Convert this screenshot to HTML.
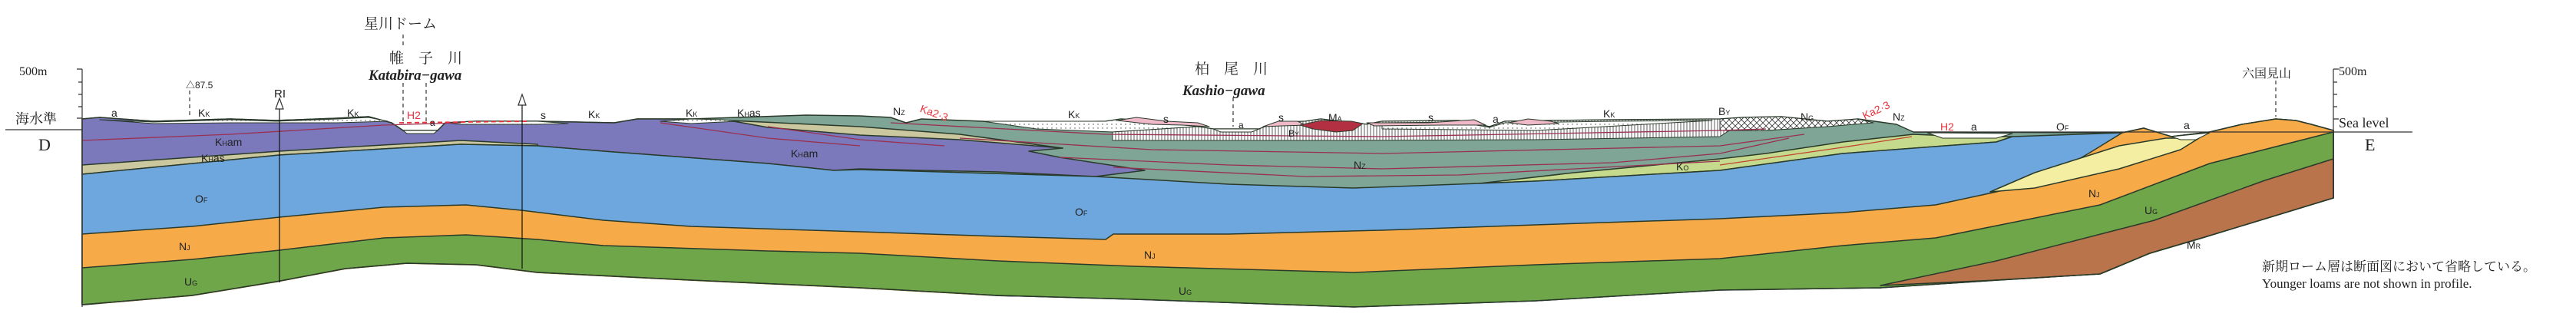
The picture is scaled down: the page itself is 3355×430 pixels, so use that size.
<!DOCTYPE html>
<html><head><meta charset="utf-8"><style>
html,body{margin:0;padding:0;background:#fff;}
svg{display:block;}
text{font-family:"Liberation Sans","Noto Sans CJK JP",sans-serif;fill:#222;}
.l{font-size:14px;}
.s{font-size:9px;}
.jp{font-family:"Liberation Serif","Noto Serif CJK SC","Noto Sans CJK JP",serif;font-size:19px;}
.it{font-family:"Liberation Serif",serif;font-style:italic;font-weight:bold;font-size:19px;}
.red{fill:#e8323c;}
</style></head><body>
<svg width="3355" height="430" viewBox="0 0 3355 430" xmlns="http://www.w3.org/2000/svg">
<defs>
<pattern id="vh" width="4" height="10" patternUnits="userSpaceOnUse"><rect width="4" height="10" fill="#fff"/><line x1="1" y1="0" x2="1" y2="10" stroke="#333" stroke-width="0.8"/></pattern>
<pattern id="dt" width="6" height="5" patternUnits="userSpaceOnUse"><rect width="6" height="5" fill="#fff"/><circle cx="2" cy="2" r="0.7" fill="#444"/></pattern>
<pattern id="xh" width="8" height="8" patternUnits="userSpaceOnUse"><rect width="8" height="8" fill="#fff"/><path d="M0 0L8 8M8 0L0 8" stroke="#333" stroke-width="0.8"/></pattern>
</defs>
<g stroke="#2a3a2a" stroke-width="1.5" stroke-linejoin="round">
<path fill="#7fa596" d="M107,155 L130,153 200,158 300,155 360,157 440,154 480,152 510,160 525,170 570,170 580,160 620,158 700,158 800,160 830,155 900,155 960,153 1050,150 1120,151 1160,153 1180,160 1200,155 1280,158 1300,160 1440,158 1460,155 1500,158 1560,165 1580,168 1640,168 1660,160 1700,158 1720,155 1780,162 1800,158 1900,157 1940,165 1960,158 2020,157 2100,156 2240,155 2270,153 2320,152 2380,158 2420,155 2470,162 2492,172 2764,173 2792,167 2828,178 2878,172 2920,162 2964,155 2990,157 3010,162 3039,170 L3039,258 L2449,375 L107,397 Z"/>
<path fill="#7b79bb" d="M107,155 L130,153 200,158 300,155 360,157 440,154 480,152 510,160 525,170 570,170 580,160 620,158 700,158 800,160 830,155 900,155 950,157 1000,160 1120,172 1300,185 1384,193 1340,197 1380,205 1491,222 1427,230 1300,224 1200,222 1120,220 1086,222 1000,213 786,197 700,190 600,188 364,202 107,227 Z"/>
<path fill="#cbc79f" d="M107,215 L364,197 600,183 700,188 700,190 600,188 364,202 107,227 Z"/>
<path fill="#cbc79f" d="M950,157 L1120,165 1250,175 1384,193 1250,182 1120,176 1000,166 Z"/>
<path fill="#c5da8c" d="M1927,239 L2050,225 2240,207 2300,200 2400,185 2492,175 2560,178 2621,178 2600,185 2400,200 2240,222 2000,236 Z"/>
<path fill="#6ea7dd" d="M107,227 L364,202 600,188 700,190 786,197 1000,213 1086,222 1120,221 1427,230 1600,240 1763,245 1927,239 2000,236 2240,222 2400,200 2600,185 2621,178 2764,173 2792,167 2828,178 2878,172 2920,162 2964,155 2990,157 3010,162 3039,170 L3039,258 L2449,375 L107,397 Z"/>
<path fill="#f6aa48" d="M107,305 L250,295 364,283 500,270 607,267 679,274 786,287 900,295 1120,302 1300,308 1440,312 1450,305 1600,305 1800,300 2000,293 2240,285 2400,277 2521,267 2600,250 2664,233 2720,200 2764,173 2792,167 2828,178 2878,172 2920,162 2964,155 2990,157 3010,162 3039,170 L3039,258 L2449,375 L107,397 Z"/>
<path fill="#f4eea3" d="M2592,250 L2650,225 2760,190 2821,180 2864,180 2840,195 2760,220 2650,245 Z"/>
<path fill="#6ea649" d="M107,349 L250,338 364,326 500,310 607,306 700,312 786,320 1000,327 1120,330 1300,340 1477,347 1763,355 2000,345 2240,337 2400,320 2521,310 2735,267 2878,213 3039,172 L3039,258 2878,307 2735,357 2449,375 2240,378 2000,392 1763,400 1477,390 1300,385 1120,375 900,365 700,355 620,345 530,343 450,350 360,367 250,385 107,397 Z"/>
<path fill="#b9744b" d="M2449,372 L2600,340 2806,287 2950,235 3039,207 3039,258 2878,307 2800,330 2735,357 2600,365 Z"/>
<!-- white mask below section -->
<path fill="#fff" stroke="none" d="M107,398 L250,386 360,368 450,351 530,344 620,346 700,356 900,366 1120,376 1300,386 1477,391 1763,401 2000,393 2240,379 2449,376 2600,366 2735,358 2800,331 2878,308 3039,259 3060,259 3060,430 100,430 100,398 Z"/>
<path fill="none" d="M107,397 L250,385 360,367 450,350 530,343 620,345 700,355 900,365 1120,375 1300,385 1477,390 1763,400 2000,392 2240,378 2449,375 2600,365 2735,357 2800,330 2878,307 3039,258"/>
<path fill="url(#dt)" stroke-width="1" d="M130,156 L200,159 300,156 360,158 440,155 480,153 505,158 440,160 300,160 200,161 Z"/>
<path fill="url(#dt)" stroke-width="1" d="M580,160 L620,158 700,158 740,161 700,162 600,162 Z"/>
<path fill="url(#dt)" stroke-width="1" d="M860,158 L900,155 940,156 960,158 900,161 Z"/>
<path fill="url(#dt)" stroke-width="1" d="M1280,158 L1440,158 1460,155 1500,158 1560,165 1449,172 1350,168 Z"/>
<path fill="url(#vh)" stroke-width="1" d="M1449,172 L1560,165 1580,168 1640,168 1660,160 1700,158 1720,155 1780,162 1800,158 1900,157 1940,165 1960,158 2020,157 2100,156 2240,155 2260,165 2240,178 2000,182 1763,183 1449,183 Z"/>
<path fill="url(#dt)" stroke-width="1" d="M1800,160 L1900,159 1940,166 1960,160 2100,158 2230,157 2000,170 1800,168 Z"/>
<path fill="url(#xh)" stroke-width="1" d="M2240,155 L2270,153 2320,152 2380,158 2420,155 2440,160 2380,165 2300,170 2240,170 Z"/>
<path fill="#f0b9c9" stroke-width="1" d="M1455,157 L1480,153 1520,158 1560,160 1575,165 1540,163 1500,162 Z"/>
<path fill="#f0b9c9" stroke-width="1" d="M1645,165 L1665,158 1690,158 1700,163 1670,164 Z"/>
<path fill="#b33042" stroke-width="1" d="M1693,163 L1720,157 1760,158 1775,161 1762,170 1740,172 1710,168 Z"/>
<path fill="#f0b9c9" stroke-width="1" d="M1780,160 L1860,160 1920,156 1935,163 1880,163 1790,164 Z"/>
<path fill="#f0b9c9" stroke-width="1" d="M1965,160 L1990,155 2020,158 2030,161 1990,163 Z"/>
<path fill="#fff" stroke-width="1" d="M1580,168 L1640,168 1630,172 1590,172 Z"/>
<path fill="#fff" stroke-width="1" d="M525,170 L570,170 565,174 530,174 Z"/>
<path fill="#fff" stroke-width="1" d="M2510,173 L2621,174 2600,180 2530,180 Z"/>
<path fill="#fff" stroke-width="1" d="M2828,178 L2878,173 2860,182 2840,182 Z"/>
</g>
<g fill="none" stroke="#9a3050" stroke-width="1.3">
<path d="M107,183 L300,175 500,163 600,160"/>
<path d="M860,160 L1000,180 1120,190"/>
<path d="M1000,165 L1120,182 1230,190"/>
<path d="M1160,160 L1440,175 1800,178 2240,170 2300,168"/>
<path d="M1250,180 L1500,195 1800,200 2240,190 2350,175"/>
<path d="M1380,205 L1600,215 1800,220 2100,212 2240,200 2330,180"/>
<path d="M1450,218 L1700,230 1900,228 2240,210"/>
<path d="M2240,215 L2400,192 2490,178" stroke="#c0442e"/>
</g>
<path d="M520,160 L690,158" stroke="#e8323c" stroke-width="1.8" stroke-dasharray="6,4" fill="none"/>
<g stroke="#333" stroke-width="1.2" fill="none">
<path d="M7,169 L107,169"/>
<path d="M2492,172 L3142,172"/>
<path d="M107,90 L107,400"/>
<path d="M100,90 L107,90 M102,107 L107,107 M102,123 L107,123 M102,139 L107,139 M100,154 L107,154"/>
<path d="M3039,90 L3039,258"/>
<path d="M3039,90 L3046,90 M3039,107 L3044,107 M3039,123 L3044,123 M3039,139 L3044,139 M3039,155 L3046,155"/>
<path d="M364,140 L364,368 M680,135 L680,350" stroke="#111"/>
<path d="M359,142 L364,128 369,142 Z M675,137 L680,123 685,137 Z" fill="#fff"/>
<path d="M525,45 L525,62 M525,108 L525,160 M555,108 L555,158 M247,118 L247,150 M1606,127 L1606,165 M2964,105 L2964,152" stroke-dasharray="5,4"/>
</g>
<text x="25" y="98" style="font-family:'Liberation Serif',serif;font-size:16px">500m</text>
<text x="20" y="161" class="jp" style="font-size:18px">海水準</text>
<text x="50" y="196" style="font-family:'Liberation Serif',serif;font-size:22px">D</text>
<text x="3046" y="98" style="font-family:'Liberation Serif',serif;font-size:16px">500m</text>
<text x="3046" y="166" style="font-family:'Liberation Serif',serif;font-size:18px">Sea level</text>
<text x="3080" y="196" style="font-family:'Liberation Serif',serif;font-size:22px">E</text>
<text x="474" y="37" class="jp">星川ドーム</text>
<text x="507" y="82" class="jp">帷　子　川</text>
<text x="480" y="104" class="it">Katabira−gawa</text>
<text x="1556" y="96" class="jp">柏　尾　川</text>
<text x="1540" y="124" class="it">Kashio−gawa</text>
<text x="2920" y="101" class="jp" style="font-size:16px">六国見山</text>
<text x="242" y="115" style="font-size:12px">△87.5</text>
<text x="357" y="127" style="font-size:15px">RI</text>
<text x="2946" y="353" class="jp" style="font-size:17px">新期ローム層は断面図において省略している。</text>
<text x="2946" y="375" style="font-family:'Liberation Serif',serif;font-size:17px">Younger loams are not shown in profile.</text>
<g class="l">
<text x="145" y="152">a</text>
<text x="258" y="152">K<tspan class="s">K</tspan></text>
<text x="452" y="152">K<tspan class="s">K</tspan></text>
<text x="530" y="155" class="red">H2</text>
<text x="560" y="164" style="font-size:12px">a</text>
<text x="704" y="155">s</text>
<text x="766" y="154">K<tspan class="s">K</tspan></text>
<text x="893" y="152">K<tspan class="s">K</tspan></text>
<text x="960" y="152">K<tspan class="s">H</tspan>as</text>
<text x="280" y="190">K<tspan class="s">H</tspan>am</text>
<text x="262" y="211">K<tspan class="s">H</tspan>as</text>
<text x="1030" y="205">K<tspan class="s">H</tspan>am</text>
<text x="254" y="264">O<tspan class="s">F</tspan></text>
<text x="233" y="326">N<tspan class="s">J</tspan></text>
<text x="240" y="372">U<tspan class="s">G</tspan></text>
<text x="1163" y="150">N<tspan class="s">Z</tspan></text>
<text x="1198" y="148" class="red" transform="rotate(20 1205 145)">Ka2·3</text>
<text x="1391" y="154">K<tspan class="s">K</tspan></text>
<text x="1515" y="160">s</text>
<text x="1613" y="167" style="font-size:12px">a</text>
<text x="1665" y="158">s</text>
<text x="1678" y="178" style="font-size:12px">B<tspan class="s">Y</tspan></text>
<text x="1730" y="158">M<tspan class="s">A</tspan></text>
<text x="1860" y="158">s</text>
<text x="1944" y="160">a</text>
<text x="2088" y="153">K<tspan class="s">K</tspan></text>
<text x="2238" y="150">B<tspan class="s">Y</tspan></text>
<text x="2345" y="157">N<tspan class="s">G</tspan></text>
<text x="2425" y="150" class="red" transform="rotate(-25 2440 145)">Ka2·3</text>
<text x="2465" y="157">N<tspan class="s">Z</tspan></text>
<text x="1763" y="220">N<tspan class="s">Z</tspan></text>
<text x="2183" y="222">K<tspan class="s">O</tspan></text>
<text x="2527" y="170" class="red">H2</text>
<text x="2567" y="170">a</text>
<text x="2678" y="170">O<tspan class="s">F</tspan></text>
<text x="2844" y="168">a</text>
<text x="1400" y="281">O<tspan class="s">F</tspan></text>
<text x="1490" y="337">N<tspan class="s">J</tspan></text>
<text x="1535" y="384">U<tspan class="s">G</tspan></text>
<text x="2720" y="257">N<tspan class="s">J</tspan></text>
<text x="2793" y="279">U<tspan class="s">G</tspan></text>
<text x="2848" y="324">M<tspan class="s">R</tspan></text>
</g>
</svg>
</body></html>
